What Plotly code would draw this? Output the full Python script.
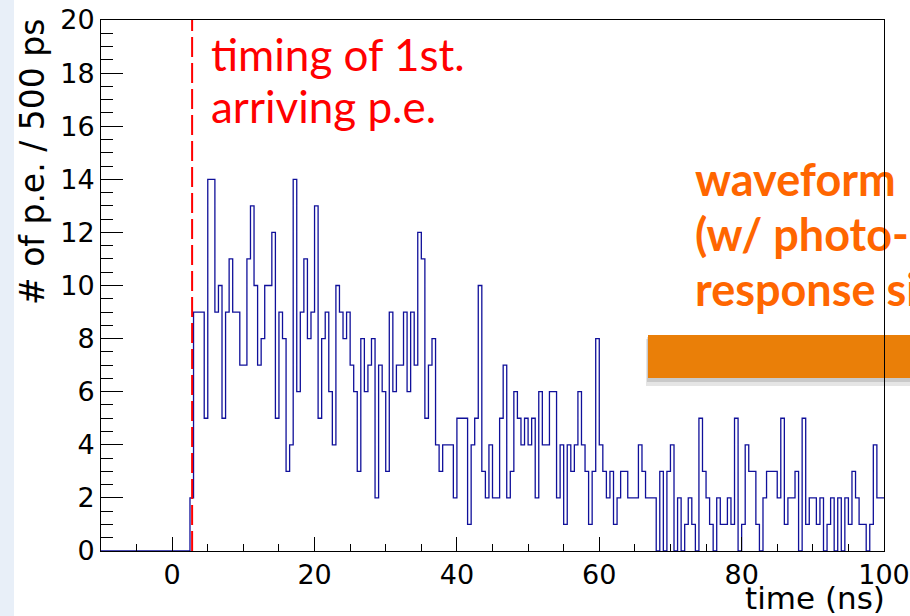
import plotly.graph_objects as go

# ---- histogram definition -------------------------------------------------
x_min, x_max = -10.0, 100.0     # ns, axis range
bin_width = 0.5                 # ns (500 ps per bin)
first_bin = 2.5                 # ns, left edge of first filled bin

# photo-electron counts per 500 ps bin, starting at first_bin
counts = [
    2, 9, 9, 9, 5, 14, 14, 9, 10, 5,
    9, 11, 9, 9, 7, 7, 11, 13, 10, 7,
    8, 10, 10, 12, 5, 9, 8, 3, 4, 14,
    6, 9, 11, 8, 9, 13, 5, 8, 9, 6,
    4, 10, 9, 8, 9, 7, 6, 3, 8, 6,
    7, 8, 2, 7, 6, 3, 9, 6, 7, 7,
    9, 6, 9, 7, 12, 11, 5, 7, 8, 4,
    3, 4, 4, 4, 2, 5, 5, 5, 1, 4,
    5, 10, 3, 2, 4, 2, 2, 5, 7, 2,
    3, 6, 5, 4, 5, 4, 5, 2, 6, 4,
    4, 6, 6, 2, 4, 1, 4, 3, 4, 6,
    4, 3, 1, 3, 8, 4, 3, 2, 3, 1,
    2, 3, 3, 2, 2, 2, 4, 3, 2, 2,
    2, 0, 3, 0, 3, 4, 0, 2, 0, 1,
    2, 1, 0, 5, 3, 2, 1, 0, 2, 1,
    1, 2, 1, 5, 0, 1, 4, 3, 3, 1,
    0, 2, 3, 3, 3, 2, 5, 1, 2, 2,
    3, 0, 5, 1, 2, 2, 1, 2, 0, 1,
    2, 0, 2, 0, 2, 1, 3, 2, 1, 1,
    0, 1, 4, 2, 2,
]

first_pe_time = 2.8             # ns, arrival of the first photo-electron

x_ticks = [0, 20, 40, 60, 80, 100]
y_ticks = [0, 2, 4, 6, 8, 10, 12, 14, 16, 18, 20]

red_label = ["timing of 1st.", "arriving p.e."]
orange_label = ["waveform", "(w/ photo-", "response simulation)"]

# ---- step outline of the histogram ---------------------------------------
n_empty = int(round((first_bin - x_min) / bin_width))
values = [0] * n_empty + counts
edges = [x_min + i * bin_width for i in range(len(values) + 1)]
step_y = values + [values[-1]]

W, H = 910, 616
L, R, T, B = 101, 26, 20, 65
plot_w, plot_h = W - L - R, H - T - B


def px_x(p):
    return (p - L) / plot_w


def px_y(p):
    return (H - B - p) / plot_h


def data_x(p):
    return x_min + (p - L) / plot_w * (x_max - x_min)


def data_y(p):
    return (H - B - p) / plot_h * 20.0


fig = go.Figure()

fig.add_trace(go.Scatter(
    x=edges, y=step_y, mode="lines", line_shape="hv",
    line=dict(color="#10109a", width=1.3),
    showlegend=False, hoverinfo="skip",
))

# orange caption drawn as trace text so the frame line stays on top of it
fig.add_trace(go.Scatter(
    x=[data_x(695)] * 3,
    y=[data_y(185), data_y(240), data_y(295)],
    mode="text", text=orange_label, textposition="middle right",
    textfont=dict(family="Lato", size=45, color="#ff6600", weight="bold"),
    cliponaxis=False, showlegend=False, hoverinfo="skip",
))

shapes = [
    # slide background strip on the left
    dict(type="rect", xref="paper", yref="paper", x0=px_x(0), x1=px_x(14),
         y0=px_y(H), y1=px_y(0), fillcolor="#e8eff8", line_width=0,
         layer="below"),
    # orange arrow bar with soft shadow
    dict(type="rect", xref="paper", yref="paper", x0=px_x(646), x1=px_x(930),
         y0=px_y(386), y1=px_y(339), fillcolor="rgba(0,0,0,0.10)",
         line_width=0, layer="below"),
    dict(type="rect", xref="paper", yref="paper", x0=px_x(647), x1=px_x(930),
         y0=px_y(382), y1=px_y(337), fillcolor="rgba(0,0,0,0.12)",
         line_width=0, layer="below"),
    dict(type="rect", xref="paper", yref="paper", x0=px_x(648), x1=px_x(930),
         y0=px_y(378), y1=px_y(335), fillcolor="#ea7f08",
         line_width=0, layer="below"),
    # first photo-electron arrival marker
    dict(type="line", xref="x", yref="paper", x0=first_pe_time,
         x1=first_pe_time, y0=0, y1=1,
         line=dict(color="#ff0000", width=2, dash="20px,6px"), layer="above"),
]

annotations = [
    dict(text=red_label[0], xref="paper", yref="paper", x=px_x(209),
         y=px_y(54), xanchor="left", yanchor="middle", showarrow=False,
         font=dict(family="Lato", size=44, color="#ff0000")),
    dict(text=red_label[1], xref="paper", yref="paper", x=px_x(209),
         y=px_y(106), xanchor="left", yanchor="middle", showarrow=False,
         font=dict(family="Lato", size=44, color="#ff0000")),
    dict(text="time (ns)", xref="paper", yref="paper", x=px_x(887),
         y=px_y(598), xanchor="right", yanchor="middle", showarrow=False,
         font=dict(family="DejaVu Sans", size=31, color="black")),
    dict(text="# of p.e. / 500 ps", xref="paper", yref="paper", x=px_x(33),
         y=px_y(17), xanchor="center", yanchor="top", textangle=-90,
         showarrow=False,
         font=dict(family="DejaVu Sans", size=33, color="black")),
]

axis_common = dict(
    showline=True, linecolor="black", linewidth=1, mirror=True,
    showgrid=False, zeroline=False, ticks="inside", tickcolor="black",
    tickwidth=1, tickfont=dict(family="DejaVu Sans", size=27, color="black"),
)

fig.update_layout(
    width=W, height=H,
    margin=dict(l=L, r=R, t=T, b=B, autoexpand=False),
    paper_bgcolor="white", plot_bgcolor="rgba(0,0,0,0)",
    xaxis=dict(range=[x_min, x_max], tickvals=x_ticks, ticklen=14,
               minor=dict(dtick=5, tick0=0, ticklen=7, ticks="inside",
                          tickcolor="black", showgrid=False),
               **axis_common),
    yaxis=dict(range=[0, 20], tickvals=y_ticks, ticklen=22,
               minor=dict(dtick=0.5, tick0=0, ticklen=12, ticks="inside",
                          tickcolor="black", showgrid=False),
               **axis_common),
    shapes=shapes,
    annotations=annotations,
)

fig.write_html("out.html")
